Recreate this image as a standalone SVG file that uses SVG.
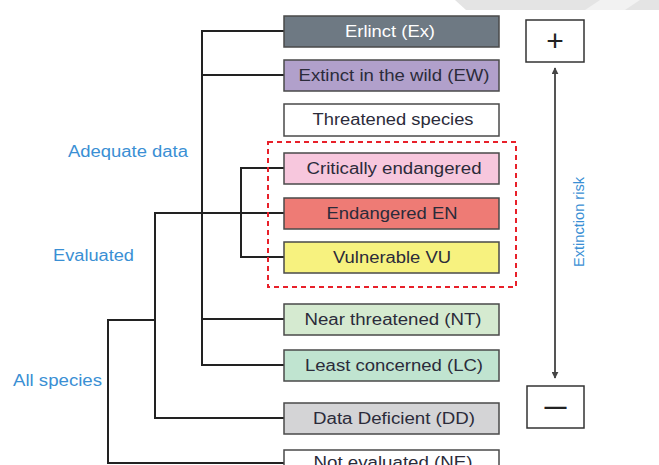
<svg xmlns="http://www.w3.org/2000/svg" width="659" height="465" viewBox="0 0 659 465">
<style>
.box{stroke:#4a4a4a;stroke-width:1.5}
.lbl{font-family:"Liberation Sans",Arial,sans-serif;font-size:16px;fill:#2b2b3a;text-anchor:middle}
.blue{font-family:"Liberation Sans",Arial,sans-serif;font-size:16px;fill:#3a8fd4}
.tree{fill:none;stroke:#222;stroke-width:2}
</style>
<defs>
<marker id="ah" viewBox="0 0 10 10" refX="9" refY="5" markerWidth="7" markerHeight="7" orient="auto-start-reverse" markerUnits="userSpaceOnUse">
<path d="M0,0 L10,5 L0,10 z" fill="#444"/>
</marker>
</defs>
<rect width="659" height="465" fill="#fff"/>
<polygon points="455,0 659,0 659,10 466,10" fill="#e4e4e4"/>
<polygon points="600,0 640,0 625,10 585,10" fill="#f2f2f2"/>

<g id="connectors">
<path class="tree" d="M284,31 H202 V365 H284 M202,75 H284 M202,319 H284"/>
<path class="tree" d="M284,168 H241 V257 H284"/>
<path class="tree" d="M284,213 H155 V418 H284"/>
<path class="tree" d="M155,320 H108 V463 H284"/>
<line x1="555" y1="68" x2="555" y2="378" stroke="#555" stroke-width="2" marker-start="url(#ah)" marker-end="url(#ah)"/>
</g>

<rect id="threatened-group" x="268" y="142" width="248" height="145" fill="none" stroke="#e8202a" stroke-width="2" stroke-dasharray="5,4"/>

<g id="ex"><rect class="box" x="284" y="16" width="215" height="31" fill="#6e7983"/><text class="lbl" x="390" y="37" fill="#fff" style="fill:#fff" textLength="90" lengthAdjust="spacingAndGlyphs">Erlinct (Ex)</text></g>
<g id="ew"><rect class="box" x="284" y="60" width="215" height="31" fill="#b1a0cb"/><text class="lbl" x="394" y="81" textLength="191" lengthAdjust="spacingAndGlyphs">Extinct in the wild (EW)</text></g>
<g id="threatened"><rect class="box" x="284" y="104" width="215" height="32" fill="#fff"/><text class="lbl" x="393" y="125" textLength="161" lengthAdjust="spacingAndGlyphs">Threatened species</text></g>
<g id="ce"><rect class="box" x="284" y="153" width="215" height="31" fill="#f7c7dd"/><text class="lbl" x="394" y="174" textLength="175" lengthAdjust="spacingAndGlyphs">Critically endangered</text></g>
<g id="en"><rect class="box" x="284" y="198" width="215" height="31" fill="#ee7b75"/><text class="lbl" x="392" y="219" textLength="131" lengthAdjust="spacingAndGlyphs">Endangered EN</text></g>
<g id="vu"><rect class="box" x="284" y="242" width="215" height="31" fill="#f7f27f"/><text class="lbl" x="392" y="263" textLength="118" lengthAdjust="spacingAndGlyphs">Vulnerable VU</text></g>
<g id="nt"><rect class="box" x="284" y="304" width="215" height="31" fill="#d5ead0"/><text class="lbl" x="393" y="325" textLength="177" lengthAdjust="spacingAndGlyphs">Near threatened (NT)</text></g>
<g id="lc"><rect class="box" x="284" y="350" width="215" height="31" fill="#c0e4d0"/><text class="lbl" x="394" y="371" textLength="178" lengthAdjust="spacingAndGlyphs">Least concerned (LC)</text></g>
<g id="dd"><rect class="box" x="284" y="403" width="215" height="31" fill="#d4d4d6"/><text class="lbl" x="394" y="424" textLength="162" lengthAdjust="spacingAndGlyphs">Data Deficient (DD)</text></g>
<g id="ne"><rect class="box" x="284" y="450" width="215" height="31" fill="#fff"/><text class="lbl" x="393" y="468" textLength="159" lengthAdjust="spacingAndGlyphs">Not evaluated (NE)</text></g>

<g id="plus"><rect x="526" y="20" width="58" height="42" fill="#fff" stroke="#333" stroke-width="1.5"/><text x="555" y="51" font-family="Liberation Sans,Arial,sans-serif" font-size="30" fill="#222" text-anchor="middle">+</text></g>
<g id="minus"><rect x="527" y="386" width="57" height="42" fill="#fff" stroke="#333" stroke-width="1.5"/><text x="555.5" y="414" font-family="Liberation Sans,Arial,sans-serif" font-size="22" font-weight="bold" fill="#222" text-anchor="middle">—</text></g>

<text class="blue" x="68" y="157" textLength="120" lengthAdjust="spacingAndGlyphs">Adequate data</text>
<text class="blue" x="53" y="261" textLength="81" lengthAdjust="spacingAndGlyphs">Evaluated</text>
<text class="blue" x="13" y="386" textLength="89" lengthAdjust="spacingAndGlyphs">All species</text>
<text class="blue" transform="translate(584,222) rotate(-90)" x="0" y="0" text-anchor="middle" style="font-size:14px" textLength="90" lengthAdjust="spacingAndGlyphs">Extinction risk</text>
</svg>
